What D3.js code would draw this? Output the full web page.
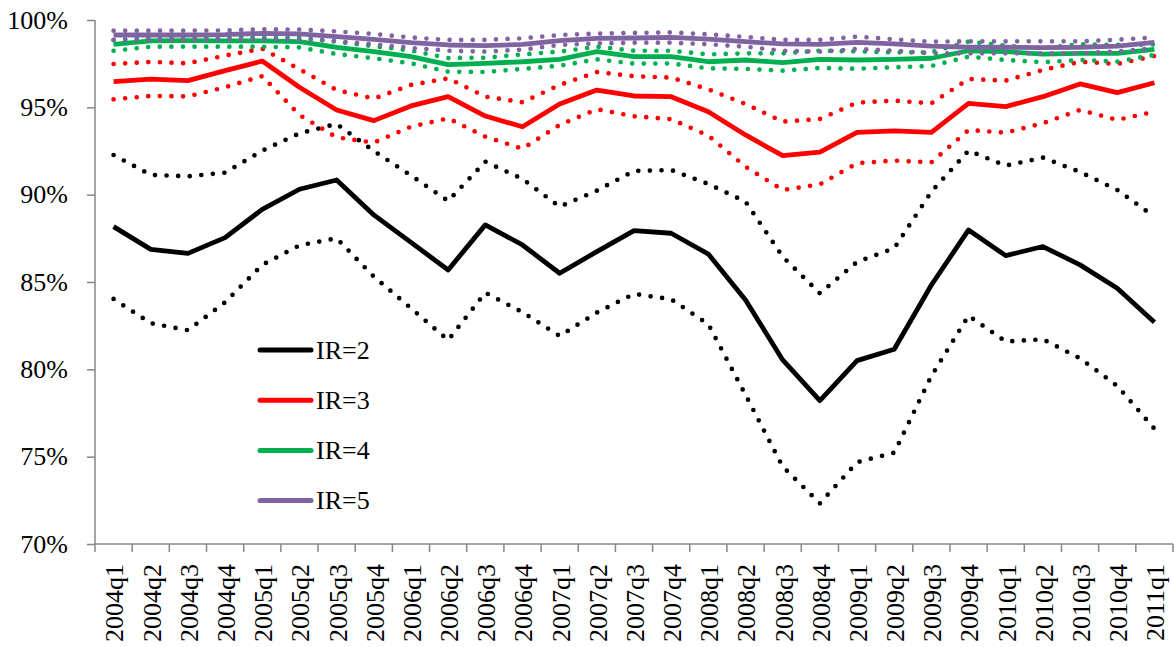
<!DOCTYPE html>
<html>
<head>
<meta charset="utf-8">
<script src="https://cdn.jsdelivr.net/npm/d3@7"></script>
<style>
  html, body { margin: 0; padding: 0; background: #fff; }
  svg { display: block; }
  text { font-family: "Palatino Linotype", "Book Antiqua", Palatino, "Liberation Serif", serif; }
</style>
</head>
<body>
<svg id="chart" width="1175" height="647"></svg>
<script>
const categories = ["2004q1","2004q2","2004q3","2004q4","2005q1","2005q2","2005q3","2005q4",
  "2006q1","2006q2","2006q3","2006q4","2007q1","2007q2","2007q3","2007q4",
  "2008q1","2008q2","2008q3","2008q4","2009q1","2009q2","2009q3","2009q4",
  "2010q1","2010q2","2010q3","2010q4","2011q1"];

const yTicks = [0.70, 0.75, 0.80, 0.85, 0.90, 0.95, 1.00];

// IR=2 (black)
const ir2 = [88.17,86.87,86.64,87.54,89.16,90.31,90.84,88.84,87.27,85.69,88.27,87.12,85.50,86.74,87.94,87.79,86.60,83.97,80.54,78.21,80.50,81.15,84.83,87.98,86.51,87.03,85.98,84.64,82.70];
const ir2Upper = [92.27,91.13,91.05,91.26,92.52,93.51,94.05,92.50,91.10,89.64,91.89,90.90,89.31,90.23,91.36,91.41,90.61,89.60,86.45,84.35,86.15,86.93,90.17,92.52,91.66,92.12,91.30,90.27,88.74];
const ir2Lower = [84.03,82.64,82.24,83.84,85.98,87.10,87.50,85.31,83.50,81.67,84.39,83.27,81.91,83.25,84.32,84.01,82.58,78.54,74.43,72.33,74.68,75.23,79.62,83.07,81.59,81.72,80.63,79.05,76.60];

// IR=3 (red)
const ir3 = [96.47,96.62,96.53,97.10,97.65,96.15,94.85,94.24,95.08,95.61,94.50,93.89,95.19,95.99,95.65,95.61,94.75,93.42,92.23,92.43,93.57,93.65,93.57,95.23,95.04,95.61,96.34,95.84,96.41];
const ir3Upper = [97.48,97.60,97.52,97.96,98.36,97.18,95.99,95.50,96.28,96.66,95.61,95.29,96.28,97.02,96.78,96.70,96.03,95.19,94.18,94.33,95.27,95.38,95.23,96.62,96.53,97.14,97.61,97.48,97.94];
const ir3Lower = [95.46,95.65,95.63,96.15,96.79,94.56,93.28,92.98,93.89,94.37,93.32,92.63,93.99,94.89,94.49,94.32,93.38,91.60,90.27,90.59,91.80,91.95,91.85,93.70,93.55,94.09,94.85,94.28,94.75];

// IR=4 (green)
const ir4 = [98.60,98.80,98.82,98.80,98.80,98.76,98.43,98.19,97.90,97.45,97.52,97.61,97.75,98.19,97.90,97.90,97.61,97.71,97.56,97.75,97.71,97.75,97.81,98.24,98.19,98.05,98.09,98.09,98.32];
const ir4Upper = [98.85,99.00,99.00,99.00,99.00,99.00,98.75,98.50,98.25,97.82,97.84,98.03,98.19,98.47,98.24,98.24,98.03,98.09,98.09,98.24,98.20,98.15,98.15,98.76,98.53,98.38,98.61,98.57,98.60];
const ir4Lower = [98.24,98.47,98.47,98.47,98.47,98.43,98.05,97.81,97.52,97.04,97.02,97.20,97.38,97.75,97.50,97.51,97.23,97.20,97.10,97.25,97.21,97.29,97.37,97.90,97.71,97.58,97.71,97.62,98.00];

// IR=5 (purple)
const ir5 = [99.14,99.14,99.14,99.16,99.24,99.20,99.05,98.89,98.70,98.57,98.53,98.60,98.82,98.95,98.97,99.00,98.90,98.76,98.63,98.60,98.72,98.63,98.51,98.44,98.44,98.42,98.44,98.51,98.72];
const ir5Upper = [99.39,99.39,99.39,99.40,99.47,99.45,99.35,99.20,99.00,98.86,98.86,98.95,99.14,99.22,99.26,99.29,99.18,99.03,98.86,98.86,99.05,98.89,98.76,98.78,98.78,98.78,98.78,98.87,99.00];
const ir5Lower = [98.86,98.86,98.86,98.88,98.90,98.90,98.80,98.60,98.40,98.24,98.19,98.30,98.57,98.66,98.70,98.70,98.61,98.47,98.24,98.19,98.34,98.24,98.09,98.09,98.09,98.09,98.09,98.20,98.38];

const seriesNames = ["IR=2","IR=3","IR=4","IR=5"];
const colors = ["#000000","#FF0000","#00B050","#8064A2"];

const groups = [
  {name: seriesNames[0], color: colors[0], main: ir2, upper: ir2Upper, lower: ir2Lower},
  {name: seriesNames[1], color: colors[1], main: ir3, upper: ir3Upper, lower: ir3Lower},
  {name: seriesNames[2], color: colors[2], main: ir4, upper: ir4Upper, lower: ir4Lower},
  {name: seriesNames[3], color: colors[3], main: ir5, upper: ir5Upper, lower: ir5Lower}
];

const svg = d3.select("#chart");
const plotLeft = 95, plotRight = 1173, plotTop = 20, plotBottom = 544;
const axisColor = "#868686";
const fontSize = 26;
const fontStack = "'Palatino Linotype','Book Antiqua',Palatino,'Liberation Serif',serif";

const x = d3.scaleBand().domain(categories).range([plotLeft, plotRight]).padding(0);
const y = d3.scaleLinear().domain([0.70, 1.00]).range([plotBottom, plotTop]);
const bw = x.bandwidth();

// Y axis
const yAxis = svg.append("g")
  .attr("transform", `translate(${plotLeft},0)`)
  .call(d3.axisLeft(y).tickValues(yTicks).tickFormat(d3.format(".0%")).tickSize(8).tickPadding(19));
yAxis.select(".domain").attr("stroke", axisColor).attr("stroke-width", 1.5).attr("d", `M0,${plotTop}V${plotBottom}`);
yAxis.selectAll(".tick line").attr("stroke", axisColor).attr("stroke-width", 1.5);
yAxis.selectAll(".tick text").attr("fill", "#000").style("font-size", fontSize + "px")
  .style("font-family", fontStack);

// X axis
const xAxis = svg.append("g")
  .attr("transform", `translate(0,${plotBottom})`)
  .call(d3.axisBottom(x).tickSize(0).tickPadding(0));
xAxis.select(".domain").attr("stroke", axisColor).attr("stroke-width", 1.5).attr("d", `M${plotLeft},0H${plotRight}`);
xAxis.selectAll(".tick text")
  .attr("fill", "#000")
  .style("font-size", fontSize + "px")
  .style("font-family", fontStack)
  .attr("transform", "rotate(-90)")
  .attr("x", -20)
  .attr("y", 0)
  .attr("dy", "0.38em")
  .style("text-anchor", "end");
// boundary tick marks
const boundaries = categories.map(c => x(c)).concat([x(categories[categories.length - 1]) + bw]);
xAxis.selectAll(".bt").data(boundaries).enter().append("line")
  .attr("x1", d => d).attr("x2", d => d).attr("y1", 0).attr("y2", 8)
  .attr("stroke", axisColor).attr("stroke-width", 1.5);

// Lines
const line = d3.line()
  .x((d, i) => x(categories[i]) + bw / 2)
  .y(d => y(d / 100));

const plot = svg.append("g");
groups.forEach(g => {
  [g.lower, g.upper].forEach(arr => {
    plot.append("path")
      .datum(arr)
      .attr("d", line)
      .attr("fill", "none")
      .attr("stroke", g.color)
      .attr("stroke-width", 4.7)
      .attr("stroke-linecap", "round")
      .attr("stroke-dasharray", "0 11.6");
  });
  plot.append("path")
    .datum(g.main)
    .attr("d", line)
    .attr("fill", "none")
    .attr("stroke", g.color)
    .attr("stroke-width", 4.8)
    .attr("stroke-linejoin", "round");
});

// Legend
const legend = svg.append("g").attr("transform", "translate(258,350)");
groups.forEach((g, i) => {
  const row = legend.append("g").attr("transform", `translate(0,${i * 50.2})`);
  row.append("line").attr("x1", 2).attr("x2", 53).attr("y1", 0).attr("y2", 0)
    .attr("stroke", g.color).attr("stroke-width", 5).attr("stroke-linecap", "round");
  row.append("text").attr("x", 58).attr("y", 0).attr("dy", "0.33em")
    .style("font-size", fontSize + "px").style("font-family", fontStack)
    .attr("fill", "#000").text(g.name);
});
</script>
</body>
</html>
